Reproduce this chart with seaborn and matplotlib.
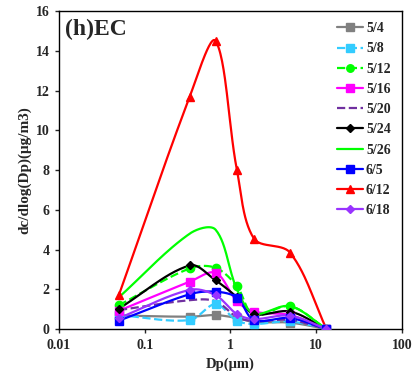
import numpy as np
import pandas as pd
import matplotlib
matplotlib.use("Agg")
import matplotlib.pyplot as plt
from matplotlib.lines import Line2D
import seaborn as sns

sns.set_style("ticks")
plt.rcParams['font.family'] = ['Liberation Serif', 'DejaVu Serif']
plt.rcParams['font.weight'] = 'bold'

# particle size (um)
dp = [0.05, 0.335, 0.67, 1.19, 1.88, 4.94, 13.2]

dates = ["5/4", "5/8", "5/12", "5/16", "5/20", "5/24", "5/26", "6/5", "6/12", "6/18"]
ec_54 = [0.68, 0.62, 0.70, 0.55, 0.35, 0.32, 0.0]
ec_58 = [0.70, 0.45, 1.25, 0.42, 0.25, 0.38, 0.0]
ec_512 = [1.20, 3.05, 3.08, 2.15, 0.70, 1.15, 0.0]
ec_516 = [0.92, 2.38, 2.83, 1.40, 0.88, 0.70, 0.0]
ec_520 = [0.95, 1.45, 1.40, 0.60, 0.40, 0.45, 0.0]
ec_524 = [1.03, 3.20, 2.45, 1.60, 0.75, 0.88, 0.0]
ec_526 = [1.60, 4.80, 5.00, 2.00, 0.78, 1.15, 0.0]
ec_65 = [0.42, 1.75, 1.88, 1.58, 0.45, 0.55, 0.0]
ec_612 = [1.72, 11.70, 14.50, 8.00, 4.55, 3.85, 0.0]
ec_618 = [0.55, 1.97, 1.70, 0.75, 0.50, 0.67, 0.0]
values = [ec_54, ec_58, ec_512, ec_516, ec_520, ec_524, ec_526, ec_65, ec_612, ec_618]

colors = ["#808080", "#33CCFF", "#00FF00", "#FF00FF", "#7030A0",
          "#000000", "#00FF00", "#0000FF", "#FF0000", "#9933FF"]
markers = ["s", "s", "o", "s", None, "D", None, "s", "^", "D"]
msizes = [6, 6, 6, 6, 0, 4, 0, 6, 6, 4]
styles = ["-", "--", "--", "-", "--", "-", "-", "-", "-", "-"]

# approx pixel scale of the axes, so the smoothing behaves like it does on screen
SX, SY = 85.75, 19.9


def smooth(x, y, n=30):
    # Bezier smoothing through the points (similar to Excel smoothed lines)
    P = np.column_stack([np.log10(x) * SX, np.asarray(y, float) * SY])
    ext = np.vstack([2 * P[0] - P[1], P, 2 * P[-1] - P[-2]])
    t = np.linspace(0, 1, n)[:, None]
    out = []
    for i in range(1, len(ext) - 2):
        p0, p1, p2, p3 = ext[i - 1], ext[i], ext[i + 1], ext[i + 2]
        d01 = np.linalg.norm(p1 - p0)
        d12 = np.linalg.norm(p2 - p1)
        d23 = np.linalg.norm(p3 - p2)
        c1 = p1 + (p2 - p0) / 3 * d12 / (d01 + d12)
        c2 = p2 - (p3 - p1) / 3 * d12 / (d12 + d23)
        seg = ((1 - t) ** 3 * p1 + 3 * (1 - t) ** 2 * t * c1
               + 3 * (1 - t) * t ** 2 * c2 + t ** 3 * p2)
        out.append(seg)
    out = np.vstack(out)
    return 10 ** (out[:, 0] / SX), out[:, 1] / SY


fig, ax = plt.subplots(figsize=(4.13, 3.83), dpi=100)
fig.subplots_adjust(left=0.143, right=0.973, bottom=0.141, top=0.971)

handles = []
for d, v, c, m, ms, ls in zip(dates, values, colors, markers, msizes, styles):
    sx, sy = smooth(dp, v)
    df = pd.DataFrame({"x": sx, "y": sy})
    sns.lineplot(data=df, x="x", y="y", ax=ax, color=c, linestyle=ls, lw=1.6, sort=False)
    if m:
        ax.plot(dp, v, linestyle="none", marker=m, color=c, markersize=ms, zorder=3)
    handles.append(Line2D([0], [0], color=c, linestyle=ls, lw=1.6, marker=m,
                          markersize=ms * 0.9))

ax.set_xscale("log")
ax.set_xlim(0.01, 100)
ax.set_ylim(0, 16)
ax.set_yticks(range(0, 17, 2))
ax.set_xticks([0.01, 0.1, 1, 10, 100])
ax.set_xticklabels(["0.01", "0.1", "1", "10", "100"])
ax.minorticks_off()
ax.tick_params(labelsize=10, length=3, width=1, pad=4)
for lab in ax.get_xticklabels() + ax.get_yticklabels():
    lab.set_fontweight("bold")
for s in ax.spines.values():
    s.set_linewidth(1.0)
    s.set_color("black")

ax.set_xlabel("Dp(\u03bcm)", fontsize=10.5, fontweight="bold", labelpad=4)
ax.set_ylabel("dc/dlog(Dp)(\u03bcg/m3)", fontsize=11, fontweight="bold", labelpad=3)
ax.text(0.018, 0.975, "(h)EC", transform=ax.transAxes, fontsize=17,
        fontweight="bold", va="top", ha="left")

leg = ax.legend(handles, dates, loc="upper right", frameon=False,
                handlelength=1.9, labelspacing=0.52, handletextpad=0.2,
                bbox_to_anchor=(1.0, 1.0), borderaxespad=0.4,
                prop={"weight": "bold", "size": 10})

fig.savefig("out.png", dpi=100)
